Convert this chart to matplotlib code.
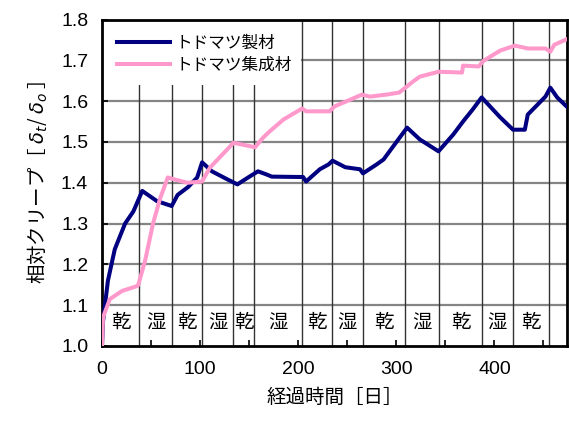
"""
Relative creep of Todomatsu (Abies sachalinensis) lumber and glulam
under alternating dry / wet conditions.
"""
import numpy as np
import matplotlib
matplotlib.use('Agg')
import matplotlib.pyplot as plt
from matplotlib.patches import Rectangle
from matplotlib.ticker import MultipleLocator, FormatStrFormatter

# Sawn lumber (トドマツ製材): elapsed days, relative creep
lumber_days = [0, 1, 6, 13, 23.5, 32, 41, 56, 71, 77, 88, 97, 102, 112, 128, 138,
               149, 159, 168, 173, 205, 208, 222, 231, 235, 248, 263, 266, 280,
               287, 302, 311, 324, 343, 358, 368, 378, 387, 406, 419, 431, 434,
               452, 457, 464, 474]
lumber_creep = [1.0, 1.06, 1.16, 1.237, 1.30, 1.33, 1.38, 1.355, 1.343, 1.37, 1.39,
                1.413, 1.45, 1.428, 1.408, 1.396, 1.413, 1.428, 1.42, 1.415, 1.414,
                1.403, 1.433, 1.445, 1.454, 1.438, 1.433, 1.423, 1.445, 1.457,
                1.506, 1.535, 1.506, 1.477, 1.518, 1.55, 1.58, 1.609, 1.56, 1.53,
                1.53, 1.567, 1.611, 1.633, 1.609, 1.586]

# Glued laminated timber (トドマツ集成材)
glulam_days = [0, 1, 8, 20.5, 36, 37, 44, 52, 59, 67, 74, 87, 102, 110, 127, 134,
               156, 164, 171, 185, 204, 208, 232, 237, 265, 273, 290, 303, 317,
               324, 343, 367, 368, 384, 389, 406, 421, 434, 452, 457, 461, 474]
glulam_creep = [1.0, 1.07, 1.115, 1.135, 1.147, 1.15, 1.21, 1.30, 1.36, 1.413,
                1.408, 1.40, 1.403, 1.437, 1.48, 1.498, 1.487, 1.51, 1.526, 1.555,
                1.582, 1.575, 1.575, 1.587, 1.616, 1.611, 1.616, 1.621, 1.648,
                1.66, 1.672, 1.67, 1.687, 1.685, 1.699, 1.724, 1.736, 1.729, 1.729,
                1.721, 1.738, 1.752]

# Dry / wet period boundaries (days) and the label of each period
period_edges = [0, 38, 71.5, 102, 134, 155, 204, 234, 266, 309, 344, 387, 419, 456]
period_labels = ['乾', '湿', '乾', '湿', '乾', '湿', '乾', '湿', '乾', '湿', '乾', '湿', '乾']

y_grid = [1.1, 1.2, 1.3, 1.4, 1.5, 1.6, 1.7]

plt.rcParams['font.family'] = ['Liberation Sans', 'Noto Sans CJK JP']
plt.rcParams['mathtext.fontset'] = 'dejavusans'
jp = 'Noto Sans CJK JP'

fig = plt.figure(figsize=(5.69, 4.24), dpi=100, facecolor='white')
ax = fig.add_axes([0.1793, 0.184, 0.8172, 0.770])

ax.set_xlim(0, 474)
ax.set_ylim(1.0, 1.8)

# grid: grey horizontal lines, dark vertical period boundaries
for yv in y_grid:
    ax.axhline(yv, color='#858585', lw=1.6, zorder=1)
for xv in period_edges[1:]:
    ax.axvline(xv, color='#333333', lw=1.0, zorder=1)

# period labels in the middle of each interval
bounds = period_edges + [474]
for i, lab in enumerate(period_labels):
    xm = 0.5 * (bounds[i] + bounds[i + 1])
    ax.text(xm, 1.058, lab, ha='center', va='center', fontsize=14,
            family=jp, zorder=2)

ax.plot(lumber_days, lumber_creep, color='#000080', lw=2.9, zorder=3,
        label='トドマツ製材', solid_joinstyle='round')
ax.plot(glulam_days, glulam_creep, color='#ff99cc', lw=2.9, zorder=3,
        label='トドマツ集成材', solid_joinstyle='round')

# white box behind the legend
ax.add_patch(Rectangle((0, 0.8), 0.428, 0.2, transform=ax.transAxes,
                       facecolor='white', edgecolor='none', zorder=2.5))
leg = ax.legend(loc='upper left', frameon=False, prop={'family': jp, 'size': 12},
                handlelength=3.2, handletextpad=0.3, labelspacing=0.3,
                borderaxespad=0.6, borderpad=0.3)
leg.set_zorder(5)

ax.xaxis.set_major_locator(MultipleLocator(100))
ax.xaxis.set_minor_locator(MultipleLocator(50))
ax.yaxis.set_major_locator(MultipleLocator(0.1))
ax.yaxis.set_major_formatter(FormatStrFormatter('%.1f'))
ax.tick_params(axis='x', which='both', direction='in', length=4, width=1.2,
               labelsize=14, pad=11, top=False)
ax.tick_params(axis='y', direction='in', length=4, width=1.2, labelsize=14,
               pad=10, right=False)

for side in ['left', 'bottom', 'top', 'right']:
    ax.spines[side].set_linewidth(2)
    ax.spines[side].set_color('black')

ax.set_xlabel('経過時間［日］', fontsize=14, family=jp, labelpad=6)
ax.set_ylabel(r'相対クリープ［ $\delta_t$/ $\delta_o$ ］', fontsize=14, family=jp,
              labelpad=8)

plt.savefig('out.png', dpi=100, facecolor='white')
